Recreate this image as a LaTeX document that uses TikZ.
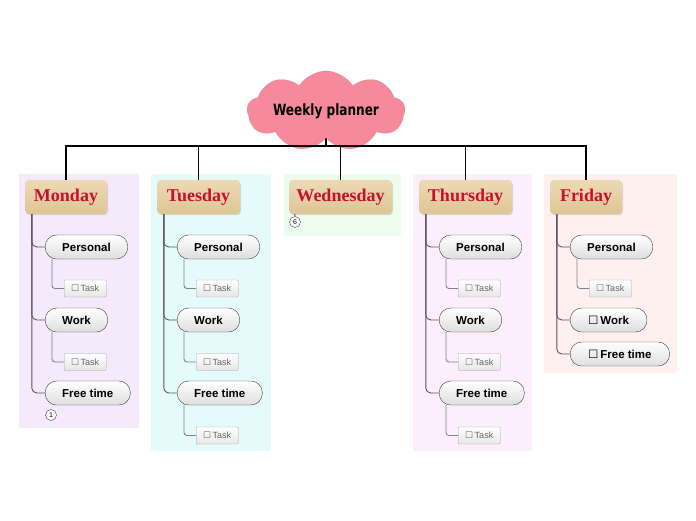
\documentclass[tikz,border=0pt]{standalone}
\usepackage{fontspec}
\newfontfamily\pillfont{Liberation Sans}
\newfontfamily\dayfont{Liberation Serif}
\newfontfamily\cloudfont[FakeStretch=0.78]{DejaVu Sans}
\newfontfamily\symfont{DejaVu Sans}
\usepackage{tikz}
\usetikzlibrary{positioning,shapes.symbols,shadows}
\definecolor{wpcloud}{HTML}{F48A9C}
\definecolor{wptan}{HTML}{E9D3A8}
\definecolor{wptandark}{HTML}{DEC595}
\definecolor{wpcrimson}{HTML}{C8102E}
\definecolor{wpmon}{HTML}{F4EAFB}
\definecolor{wptue}{HTML}{E5FAFA}
\definecolor{wpwed}{HTML}{EDFCEC}
\definecolor{wpthu}{HTML}{FCEEFC}
\definecolor{wpfri}{HTML}{FEF0EE}
\definecolor{wpline}{HTML}{5E5060}
\definecolor{wpsub}{HTML}{8A7E8C}
\newcommand{\chkbox}{{\symfont\char"2610}}

\begin{document}
\begin{tikzpicture}[
        x=1pt,y=-1pt,
        cloudnode/.style={cloud, cloud puffs=9, cloud puff arc=115, aspect=2.7,
            fill=wpcloud, draw=wpcloud!85!black, draw opacity=0.3,
            minimum width=158, minimum height=59, inner sep=0pt,
            font=\cloudfont\bfseries\fontsize{15.5}{17}\selectfont},
        daybox/.style={rounded corners=4pt, top color=wptan!85!white, bottom color=wptandark,
            drop shadow={opacity=0.25, shadow xshift=1pt, shadow yshift=-1.2pt},
            minimum height=34, inner sep=0pt, text=wpcrimson,
            font=\dayfont\bfseries\fontsize{18}{20}\selectfont},
        pill/.style={draw=black!75, rounded corners=11.5pt, top color=white, bottom color=black!13,
            minimum height=24, inner xsep=17pt, inner ysep=0pt, anchor=west,
            font=\pillfont\bfseries\fontsize{11.5}{13}\selectfont},
        taskbox/.style={draw=black!35, rounded corners=1pt, top color=white, bottom color=black!10,
            minimum height=17, minimum width=42, inner xsep=4pt, inner ysep=0pt, anchor=west, text=black!60,
            font=\pillfont\fontsize{9}{10}\selectfont},
        badge/.style={circle, draw=black!75, fill=white, minimum size=11, inner sep=0pt,
            font=\pillfont\fontsize{7}{8}\selectfont},
        spine/.style={draw=black, line width=1.8pt},
        branch/.style={draw=wpline, line width=0.9pt, rounded corners=5pt},
        subbranch/.style={draw=wpsub, line width=0.9pt, rounded corners=3pt}
    ]
        \useasboundingbox (0,0) rectangle (696,520);

        % day panels
        \fill[wpmon] (19,174) rectangle (139,428);
        \fill[wptue] (151,174) rectangle (271,451);
        \fill[wpwed] (284,174) rectangle (401,236);
        \fill[wpthu] (413,174) rectangle (532,451);
        \fill[wpfri] (544,174) rectangle (677,373);

        \node[cloudnode] (plan) at (326,111) {Weekly planner};

        \node[daybox, minimum width=82] (mon) at (66,197) {Monday};
        \node[daybox, minimum width=83] (tue) at (198.5,197) {Tuesday};
        \node[daybox, minimum width=103] (wed) at (340.5,197) {Wednesday};
        \node[daybox, minimum width=93] (thu) at (465.5,197) {Thursday};
        \node[daybox, minimum width=72] (fri) at (586,197) {Friday};

        \coordinate (hub) at (326,146);
        \draw[spine] (hub) -- (plan);
        \foreach \d in {mon,tue,wed,thu,fri}
            \draw[spine] (hub) -| (\d.north);

        % Monday, Tuesday, Thursday share one layout
        \foreach \d/\dx in {mon/0,tue/132,thu/394} {
            \node[pill] (\d-pers) at ({45+\dx},247) {Personal};
            \node[taskbox] (\d-t1) at ({64+\dx},288.5) {\chkbox\,Task};
            \node[pill] (\d-work) at ({45+\dx},320) {Work};
            \node[taskbox] (\d-t2) at ({64+\dx},362) {\chkbox\,Task};
            \node[pill] (\d-free) at ({45+\dx},393) {Free time};
            \foreach \c in {pers,work,free}
                \draw[branch] ([xshift=7pt]\d.south west) |- (\d-\c.west);
            \draw[subbranch] ([xshift=7pt]\d-pers.south west) |- (\d-t1.west);
            \draw[subbranch] ([xshift=7pt]\d-work.south west) |- (\d-t2.west);
        }
        \foreach \d/\dx in {tue/132,thu/394} {
            \node[taskbox] (\d-t3) at ({64+\dx},435.5) {\chkbox\,Task};
            \draw[subbranch] ([xshift=7pt]\d-free.south west) |- (\d-t3.west);
        }

        % Friday
        \node[pill] (fri-pers) at (570,247) {Personal};
        \node[taskbox] (fri-t1) at (589,288.5) {\chkbox\,Task};
        \node[pill, inner xsep=18pt] (fri-work) at (570,320) {\chkbox\,Work};
        \node[pill, inner xsep=18pt] (fri-free) at (570,354) {\chkbox\,Free time};
        \foreach \c in {pers,work,free}
            \draw[branch] ([xshift=7pt]fri.south west) |- (fri-\c.west);
        \draw[subbranch] ([xshift=7pt]fri-pers.south west) |- (fri-t1.west);

        % counters
        \node[badge] (mon-n) at (51,415) {1};
        \node[badge] (wed-n) at (295,222) {6};
        \draw[branch] ([xshift=6pt]wed.south west) -- (wed-n);
    \end{tikzpicture}
\end{document}
